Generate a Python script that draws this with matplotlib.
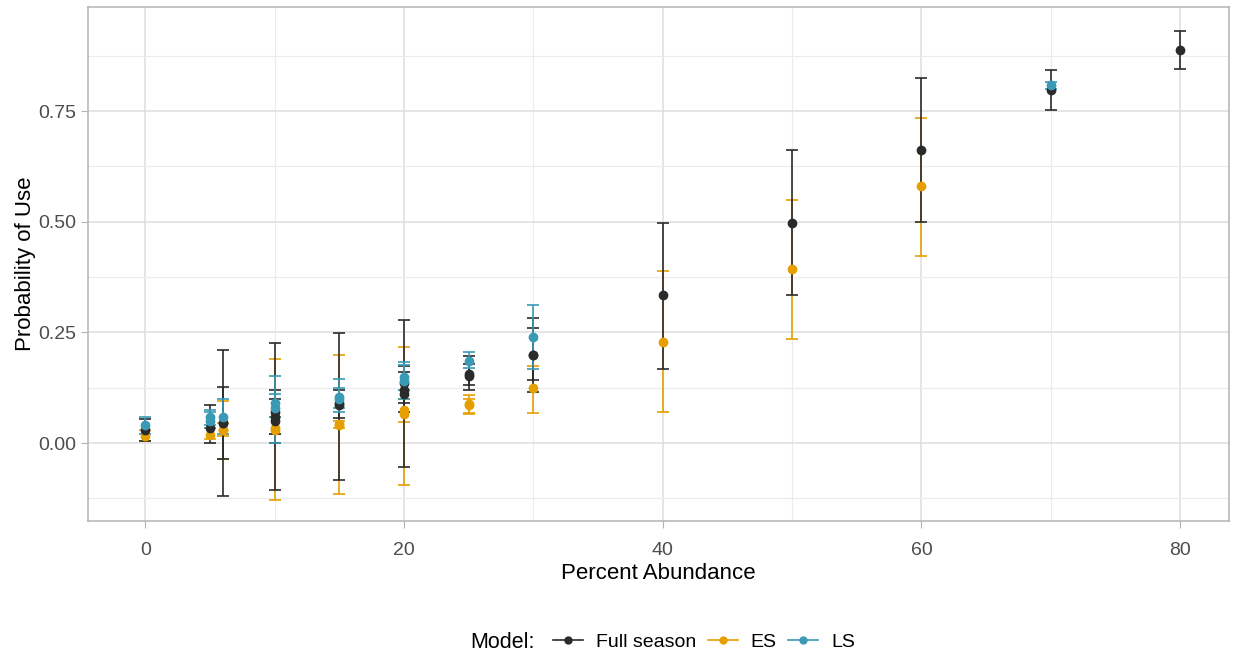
import matplotlib
matplotlib.use("Agg")
import matplotlib.pyplot as plt
from matplotlib.lines import Line2D
from matplotlib.ticker import MultipleLocator

plt.rcParams['font.family'] = ['Liberation Sans', 'DejaVu Sans']

# Full season model estimates
full_x = [0, 5, 6, 6, 10, 10, 10, 15, 15, 20, 20, 20, 25, 25, 30, 30, 40, 50, 60, 70, 80]
full_y = [0.030, 0.035, 0.045, 0.045, 0.060, 0.070, 0.050, 0.085, 0.090, 0.110, 0.135, 0.120,
          0.152, 0.155, 0.200, 0.200, 0.334, 0.497, 0.662, 0.797, 0.887]
full_lo = [0.005, 0.000, -0.120, -0.035, -0.106, 0.020, 0.000, -0.084, 0.056, -0.054, 0.090, 0.070,
           0.120, 0.131, 0.115, 0.142, 0.167, 0.334, 0.500, 0.752, 0.845]
full_hi = [0.055, 0.086, 0.210, 0.127, 0.227, 0.120, 0.100, 0.248, 0.120, 0.278, 0.175, 0.160,
           0.196, 0.178, 0.282, 0.260, 0.497, 0.662, 0.825, 0.843, 0.930]

# early season
es_x = [0, 5, 6, 6, 10, 10, 15, 15, 20, 20, 25, 25, 30, 40, 50, 60]
es_y = [0.015, 0.018, 0.030, 0.030, 0.030, 0.035, 0.040, 0.042, 0.065, 0.075, 0.088, 0.085,
        0.124, 0.229, 0.393, 0.580]
es_lo = [0.005, 0.010, -0.035, 0.015, -0.129, 0.020, -0.114, 0.034, -0.095, 0.047, 0.065, 0.068,
         0.068, 0.071, 0.235, 0.423]
es_hi = [0.030, 0.035, 0.095, 0.045, 0.190, 0.060, 0.200, 0.050, 0.218, 0.100, 0.108, 0.100,
         0.174, 0.389, 0.548, 0.735]

# late season
ls_x = [0, 5, 5, 6, 10, 10, 15, 15, 20, 20, 25, 30, 70]
ls_y = [0.040, 0.060, 0.050, 0.060, 0.080, 0.090, 0.105, 0.100, 0.140, 0.150, 0.186, 0.240, 0.808]
ls_lo = [0.020, 0.040, 0.035, 0.020, 0.000, 0.060, 0.070, 0.080, 0.100, 0.120, 0.170, 0.167, 0.800]
ls_hi = [0.060, 0.075, 0.070, 0.100, 0.151, 0.110, 0.145, 0.125, 0.184, 0.176, 0.206, 0.312, 0.815]

models = ["Full season", "ES", "LS"]
colors = ["#2b2b2b", "#E69F00", "#3A9AB5"]
series = [(full_x, full_y, full_lo, full_hi),
          (es_x, es_y, es_lo, es_hi),
          (ls_x, ls_y, ls_lo, ls_hi)]
draw_order = [1, 0, 2]  # ES underneath, then full season, LS on top

W, H = 1238, 655
fig = plt.figure(figsize=(W / 100, H / 100), dpi=100)
ax = fig.add_axes([87.5 / W, 134 / H, 1141.5 / W, 514 / H])

for i in draw_order:
    x, y, lo, hi = series[i]
    err = [[yy - l for yy, l in zip(y, lo)], [h - yy for yy, h in zip(y, hi)]]
    ax.errorbar(x, y, yerr=err, fmt='none', ecolor=colors[i], elinewidth=1.2,
                capsize=4.5, capthick=1.2, zorder=3)
for i in draw_order:
    x, y, lo, hi = series[i]
    ax.plot(x, y, 'o', color=colors[i], markersize=6, zorder=4)

ax.set_xlim(-4.46, 83.77)
ax.set_ylim(-0.176, 0.985)
ax.xaxis.set_major_locator(MultipleLocator(20))
ax.xaxis.set_minor_locator(MultipleLocator(10))
ax.yaxis.set_major_locator(MultipleLocator(0.25))
ax.yaxis.set_minor_locator(MultipleLocator(0.125))
ax.yaxis.set_major_formatter(lambda v, p: f"{v:.2f}")

ax.grid(which='major', color='#dedede', linewidth=1.1)
ax.grid(which='minor', color='#ebebeb', linewidth=0.8)
ax.set_axisbelow(True)
for s in ax.spines.values():
    s.set_color('#b3b3b3')
    s.set_linewidth(1.1)
ax.tick_params(which='major', color='#b3b3b3', length=5, labelsize=14,
               labelcolor='#4d4d4d')
ax.tick_params(axis='x', pad=10)
ax.tick_params(axis='y', pad=3)
ax.tick_params(which='minor', length=0)

ax.set_xlabel("Percent Abundance", fontsize=16, labelpad=3)
ax.set_ylabel("Probability of Use", fontsize=16, labelpad=1.5)

# legend: title as separate text, entries to its right
fig.text(470 / W, 1 - 642 / H, "Model:", fontsize=15.5, va='center', ha='left')
handles = [Line2D([], [], color=c, marker='o', markersize=5, linewidth=1.2) for c in colors]
fig.legend(handles, models, loc='center left', bbox_to_anchor=(553 / W, 1 - 642 / H),
           ncol=3, frameon=False, fontsize=14, handlelength=1.55, handletextpad=0.65,
           columnspacing=0.6, borderpad=0, borderaxespad=0)

fig.savefig("out.png", dpi=100)
